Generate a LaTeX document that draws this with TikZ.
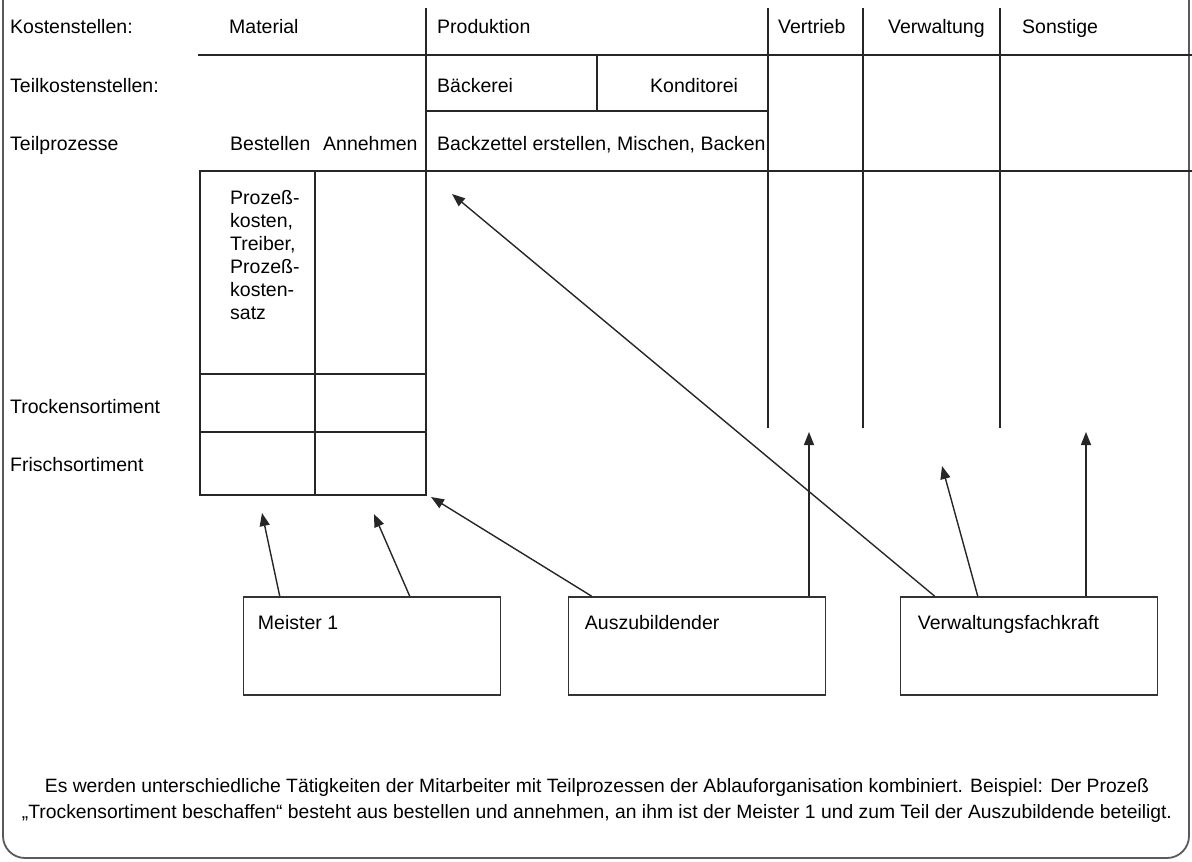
\documentclass[tikz,border=0pt]{standalone}
\usepackage{fontspec}
\setmainfont{Liberation Sans}
\usetikzlibrary{arrows.meta,calc,positioning}

\begin{document}
\begin{tikzpicture}[x=1pt,y=-1pt,>={Triangle[length=13pt,width=10pt]},
  txt/.style={anchor=base west,inner sep=0pt,font=\fontsize{19.5}{23}\selectfont},
  grid/.style={line width=1.5pt,black!85},
  box/.style={draw,line width=1.5pt,black!80,minimum width=257pt,minimum height=98pt,inner sep=0pt},
  arr/.style={->,line width=1.4pt,black!85}]
\useasboundingbox (0,0) rectangle (1192,862);
% frame
\draw[line width=1.8pt,black!65,rounded corners=22pt] (3,-10) -- (3,858) -- (1189,858) -- (1189,-10);
% head of the table
\node[txt] (ks) at (10,34) {Kostenstellen:};
\node[txt] (tks) at (10,92) {Teilkostenstellen:};
\node[txt] (tp) at (10,150) {Teilprozesse};
\node[txt] (mat) at (229,34) {Material};
\node[txt] (prod) at (437,34) {Produktion};
\node[txt] (vert) at (778,34) {Vertrieb};
\node[txt] (verw) at (888,34) {Verwaltung};
\node[txt] (sons) at (1022,34) {Sonstige};
\node[txt] (baeck) at (437,92) {Bäckerei};
\node[txt] (kond) at (650,92) {Konditorei};
\node[txt] (best) at (230,150) {Bestellen};
\node[txt] (annh) at (323,150) {Annehmen};
\node[txt] (back) at (437,150) {Backzettel erstellen, Mischen, Backen};
\draw[grid] (426,8) -- (426,495);
\draw[grid] (768,8) -- (768,428);
\draw[grid] (863,8) -- (863,428);
\draw[grid] (1000,8) -- (1000,428);
\draw[grid] (198,55) -- (1192,55);
\draw[grid] (597,55) -- (597,111);
\draw[grid] (426,111) -- (768,111);
\draw[grid] (200,171) -- (1192,171);
% material table
\draw[grid] (200,171) rectangle (426,495);
\draw[grid] (315,171) -- (315,495);
\draw[grid] (200,374) -- (426,374) (200,432) -- (426,432);
\node[txt,anchor=north west,align=left] (pk) at (230,190) {Prozeß-\\kosten,\\Treiber,\\Prozeß-\\kosten-\\satz};
\node[txt] (tro) at (10,413) {Trockensortiment};
\node[txt] (fri) at (10,471) {Frischsortiment};
% staff
\node[box] (meister) at (372,646) {};
\node[box] (azubi) at (697,646) {};
\node[box] (vfk) at (1029,646) {};
\node[txt] (meisterl) at ($(meister.north west)+(15,33)$) {Meister 1};
\node[txt] (azubil) at ($(azubi.north west)+(17,33)$) {Auszubildender};
\node[txt] (vfkl) at ($(vfk.north west)+(18,33)$) {Verwaltungsfachkraft};
% targets
\coordinate (tbest) at (262,513);
\coordinate (tannh) at (374,514);
\coordinate (tmat) at (431,497);
\coordinate (tvert) at (809,432);
\coordinate (tprod) at (452,194);
\coordinate (tverw) at (942,466);
\coordinate (tsons) at (1086,432);
\draw[arr] ($(meister.north west)+(37,0)$) -- (tbest);
\draw[arr] ($(meister.north west)+(167,0)$) -- (tannh);
\draw[arr] ($(azubi.north west)+(24,0)$) -- (tmat);
\draw[arr] (azubi.north west -| tvert) -- (tvert);
\draw[arr] ($(vfk.north west)+(35,0)$) -- (tprod);
\draw[arr] ($(vfk.north west)+(78,0)$) -- (tverw);
\draw[arr] (vfk.north west -| tsons) -- (tsons);
% caption
\node[txt,anchor=north,align=center,font=\fontsize{19.3}{26}\selectfont] (note) at (597,778)
  {Es werden unterschiedliche Tätigkeiten der Mitarbeiter mit Teilprozessen der Ablauforganisation kombiniert. Beispiel: Der Prozeß\\
   „Trockensortiment beschaffen“ besteht aus bestellen und annehmen, an ihm ist der Meister 1 und zum Teil der Auszubildende beteiligt.};
\end{tikzpicture}
\end{document}
